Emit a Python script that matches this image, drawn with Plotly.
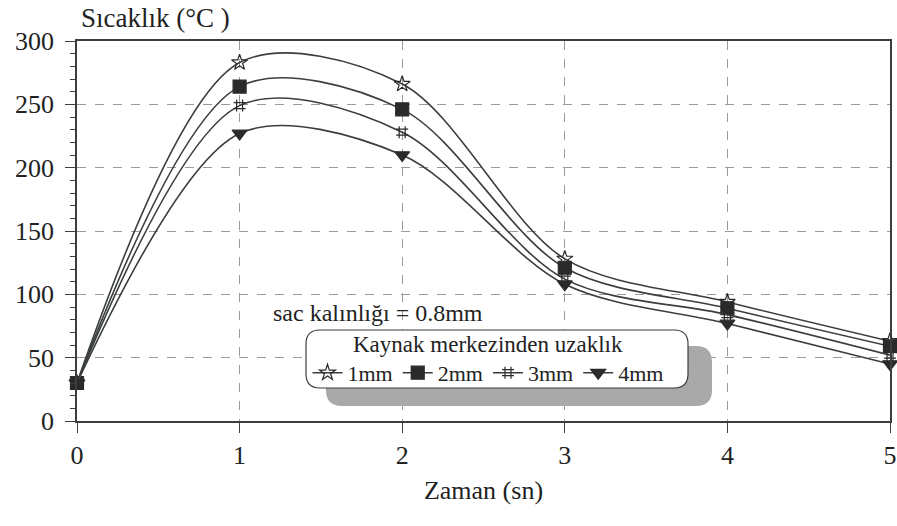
import plotly.graph_objects as go

time_s = [0, 1, 2, 3, 4, 5]
series_names = ["1mm", "2mm", "3mm", "4mm"]
temp_1mm = [30, 283, 266, 128, 94, 63]
temp_2mm = [30, 264, 246, 121, 89, 59]
temp_3mm = [30, 249, 228, 112, 84, 52]
temp_4mm = [30, 227, 210, 108, 77, 45]
y_ticks = [0, 50, 100, 150, 200, 250, 300]
x_ticks = [0, 1, 2, 3, 4, 5]

series_values = [temp_1mm, temp_2mm, temp_3mm, temp_4mm]
symbols = ["star-open", "square", "hash-open", "triangle-down"]
sizes = [12, 13, 12, 13]

FONT = "Liberation Serif, Times New Roman, serif"
LINE = "#3a3f3c"

fig = go.Figure()
for name, vals, sym, sz in zip(series_names, series_values, symbols, sizes):
    fig.add_trace(go.Scatter(
        x=time_s, y=vals, name=name, mode="lines+markers",
        line=dict(color=LINE, width=1.6, shape="spline", smoothing=0.9),
        marker=dict(symbol=sym, size=sz, color="#2a2a2a",
                    line=dict(color="#2a2a2a", width=1.2)),
        cliponaxis=False,
    ))

# geometry helpers (paper coords)
L, R, T, B = 77, 890, 41, 421
W, H = 897, 526
def px(xp):
    return (xp - L) / (R - L)
def py(yp):
    return (B - yp) / (B - T)

def rrect(x0, y0, x1, y1, r):
    rx = r / (R - L)
    ry = r / (B - T)
    X0, X1 = px(x0), px(x1)
    Y0, Y1 = py(y0), py(y1)
    return (f"M {X0+rx},{Y0} L {X1-rx},{Y0} Q {X1},{Y0} {X1},{Y0-ry} "
            f"L {X1},{Y1+ry} Q {X1},{Y1} {X1-rx},{Y1} L {X0+rx},{Y1} "
            f"Q {X0},{Y1} {X0},{Y1+ry} L {X0},{Y0-ry} Q {X0},{Y0} {X0+rx},{Y0} Z")

shapes = [
    dict(type="path", xref="paper", yref="paper", path=rrect(326, 346, 712, 406, 16),
         fillcolor="#a9a9a9", line=dict(width=0), layer="above"),
    dict(type="path", xref="paper", yref="paper", path=rrect(306, 330, 688, 388, 14),
         fillcolor="white", line=dict(color=LINE, width=1.2), layer="above"),
]

fig.update_layout(
    width=W, height=H,
    margin=dict(l=L, r=W - R, t=T, b=H - B),
    paper_bgcolor="white", plot_bgcolor="white",
    font=dict(family=FONT, size=24, color="#222"),
    shapes=shapes,
    showlegend=True,
    legend=dict(
        orientation="h", x=px(488), y=py(322), xanchor="center", yanchor="top",
        bgcolor="rgba(0,0,0,0)", borderwidth=0,
        title=dict(text="Kaynak merkezinden uzaklık", side="top center",
                   font=dict(family=FONT, size=23)),
        font=dict(family=FONT, size=22), itemwidth=30, tracegroupgap=0,
    ),
    xaxis=dict(
        range=[0, 5], tickvals=x_ticks, showline=True, linecolor=LINE, linewidth=1.5,
        mirror=True, ticks="outside", ticklen=10, tickcolor=LINE, tickwidth=1.2,
        showgrid=True, gridcolor="#9a9a9a", griddash="dash", gridwidth=1,
        zeroline=False, tickfont=dict(family=FONT, size=26), automargin=False,
        title=dict(text="Zaman (sn)", font=dict(family=FONT, size=26), standoff=12),
    ),
    yaxis=dict(
        range=[0, 300], tickvals=y_ticks, showline=True, linecolor=LINE, linewidth=1.5,
        mirror=True, ticks="outside", ticklen=10, tickcolor=LINE, tickwidth=1.2,
        minor=dict(dtick=10, ticks="outside", ticklen=5, tickcolor=LINE, showgrid=False),
        showgrid=True, gridcolor="#9a9a9a", griddash="dash", gridwidth=1,
        zeroline=False, tickfont=dict(family=FONT, size=26), automargin=False,
        ticklabelstandoff=6,
    ),
    annotations=[
        dict(text="Sıcaklık (°C )", xref="paper", yref="paper", x=px(79), y=py(18),
             xanchor="left", yanchor="middle", showarrow=False,
             font=dict(family=FONT, size=27)),
        dict(text="sac kalınlığı = 0.8mm", xref="paper", yref="paper", x=px(271), y=py(313),
             xanchor="left", yanchor="middle", showarrow=False,
             font=dict(family=FONT, size=24)),
    ],
)

fig.write_html("out.html", config={"displayModeBar": False},
               post_script="document.body.style.margin='0';document.body.style.overflow='hidden';")
